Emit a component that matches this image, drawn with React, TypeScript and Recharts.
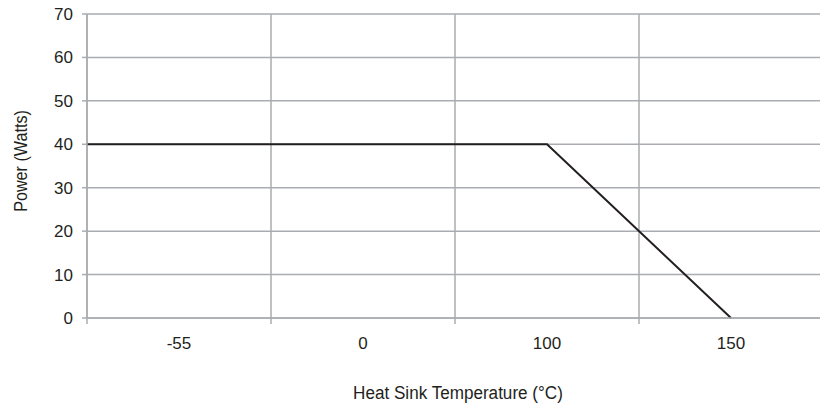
import React from 'react';
import { LineChart, Line, XAxis, YAxis, CartesianGrid, Label } from 'recharts';

// x-axis categories (band labels) and the derating curve, x in band units
const tempLabels = ['-55', '0', '100', '150'];
const curvePos = [0, 2.5, 3.5];
const curvePower = [40, 40, 0];
const powerTicks = [0, 10, 20, 30, 40, 50, 60, 70];

const data = curvePos.map((pos, i) => ({ pos, power: curvePower[i] }));

const FONT = "'Liberation Sans', Arial, sans-serif";
const INK = '#231f20';
const GRID = '#a9adb1';
const BAND = 184;

const TempTick = ({ x, y, index }: any) => (
  <text x={x + BAND / 2} y={y} dy="0.71em" textAnchor="middle" fontFamily={FONT} fontSize={17} fill={INK}>
    {tempLabels[index]}
  </text>
);

export default function App() {
  return (
    <div style={{ position: 'absolute', left: 0, top: 0, width: 820, height: 406, overflow: 'hidden', background: '#fff' }}>
      <LineChart width={830} height={406} data={data} margin={{ top: 14, right: 7, left: 0, bottom: 28 }}>
        <CartesianGrid stroke={GRID} strokeWidth={1.5} />
        <XAxis
          type="number"
          dataKey="pos"
          domain={[0, 4]}
          ticks={[0, 1, 2, 3]}
          height={60}
          stroke={GRID}
          strokeWidth={1.5}
          tickSize={6}
          tickMargin={13}
          tick={<TempTick />}
        >
          <Label
            content={({ viewBox }: any) => (
              <g transform={`translate(${viewBox.x + viewBox.width / 2 + 3}, 399) scale(0.9, 1)`}>
                <text x={0} y={0} textAnchor="middle" fontFamily={FONT} fontSize={19} fill={INK}>
                  Heat Sink Temperature (°C)
                </text>
              </g>
            )}
          />
        </XAxis>
        <YAxis
          domain={[0, 70]}
          ticks={powerTicks}
          width={87}
          stroke={GRID}
          strokeWidth={1.5}
          tickSize={5}
          tickMargin={9}
          tick={{ fontFamily: FONT, fontSize: 17, fill: INK }}
        >
          <Label
            content={({ viewBox }: any) => (
              <g transform={`translate(21, ${viewBox.y + viewBox.height / 2 - 5}) rotate(-90) scale(0.85, 1)`}>
                <text x={0} y={0} textAnchor="middle" dominantBaseline="central" fontFamily={FONT} fontSize={19} fill={INK}>
                  Power (Watts)
                </text>
              </g>
            )}
          />
        </YAxis>
        <Line
          type="linear"
          dataKey="power"
          stroke={INK}
          strokeWidth={2}
          dot={false}
          isAnimationActive={false}
        />
      </LineChart>
    </div>
  );
}
